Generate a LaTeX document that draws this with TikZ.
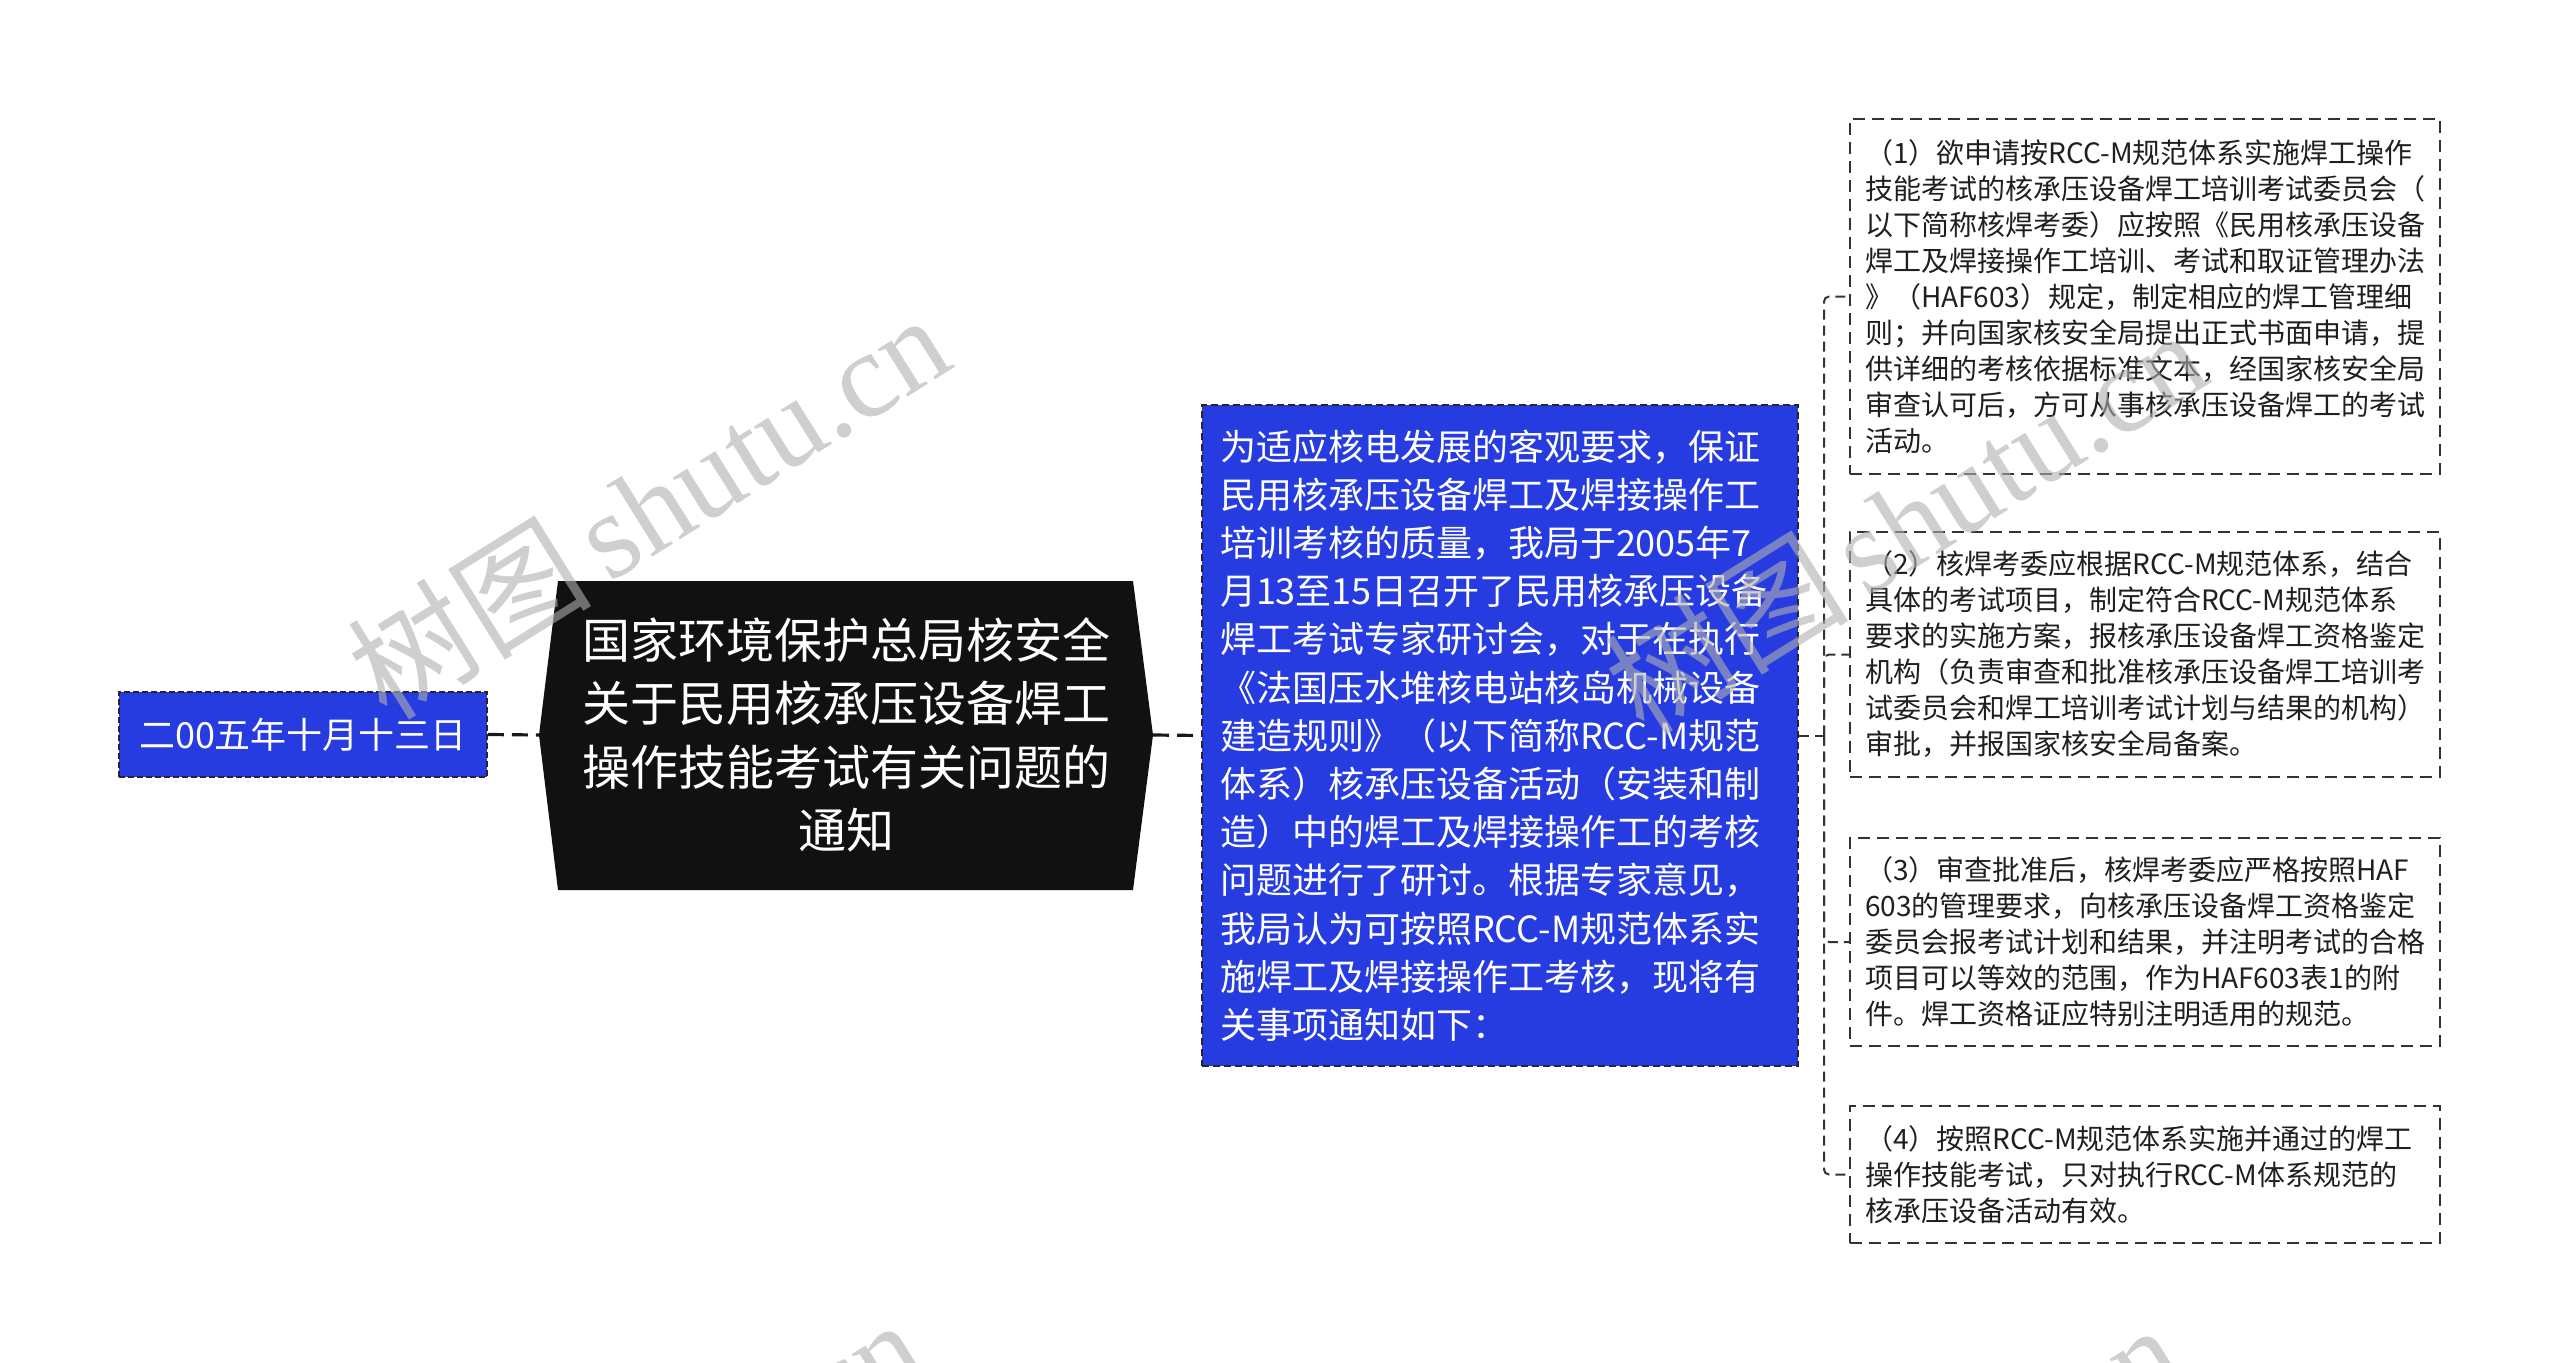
\documentclass[tikz,border=0pt]{standalone}
\usepackage{fontspec}
\setmainfont{Noto Sans CJK SC}
\newfontfamily\wmlatin{Liberation Serif}
\newfontfamily\wmcjk{Noto Sans CJK SC}
\definecolor{nodeblue}{RGB}{38,60,225}
\definecolor{wmgray}{RGB}{175,175,175}
\definecolor{titlebg}{RGB}{17,17,17}
\tikzset{
  datebox/.style={draw=black!85, dash pattern=on 6pt off 3pt, line width=1.6pt, fill=nodeblue, text=white,
    inner sep=0pt, minimum width=368pt, minimum height=85pt, font=\fontsize{36}{44}\selectfont},
  bluebox/.style={draw=black!85, dash pattern=on 7pt off 4pt, line width=1.6pt, fill=nodeblue, text=white,
    inner sep=0pt, minimum width=596pt, minimum height=661pt, text width=560pt, align=left,
    font=\fontsize{36}{48.2}\selectfont},
  titletext/.style={text=white, inner sep=0pt, align=center, font=\fontsize{48}{63.5}\selectfont},
  leafbox/.style={draw=black!80, dash pattern=on 12pt off 7pt, line width=2.2pt, fill=white, text=black!88,
    inner sep=0pt, minimum width=590pt, text width=560pt, align=left, font=\fontsize{28}{36}\selectfont},
  mainlink/.style={draw=black!90, line width=3.2pt, dash pattern=on 16pt off 8pt},
  leaflink/.style={draw=black!80, line width=2pt, dash pattern=on 10pt off 6pt, rounded corners=5pt},
  wmark/.style={text=wmgray, text opacity=0.6, inner sep=0pt, rotate=32, font=\fontsize{122}{130}\selectfont}
}
\begin{document}
\begin{tikzpicture}[x=1pt,y=-1pt]
\useasboundingbox[fill=white] (0,0) rectangle (2560,1363);

% title (black) shape
\fill[titlebg] (558,581) -- (1133,581) -- (1153,735) -- (1133,890) -- (558,890) -- (539,735) -- cycle;
\coordinate (titleL) at (539,735);
\coordinate (titleR) at (1153,735);
\node[titletext] (title) at (846,735) {国家环境保护总局核安全\\关于民用核承压设备焊工\\操作技能考试有关问题的\\通知};

% date node
\node[datebox] (date) at (303,734.5) {二00五年十月十三日};

% main blue text node
\node[bluebox] (intro) at (1500,735.5) {为适应核电发展的客观要求，保证\\民用核承压设备焊工及焊接操作工\\培训考核的质量，我局于2005年7\\月13至15日召开了民用核承压设备\\焊工考试专家研讨会，对于在执行\\《法国压水堆核电站核岛机械设备\\建造规则》（以下简称RCC-M规范\\体系）核承压设备活动（安装和制\\造）中的焊工及焊接操作工的考核\\问题进行了研讨。根据专家意见，\\我局认为可按照RCC-M规范体系实\\施焊工及焊接操作工考核，现将有\\关事项通知如下：};

% leaf nodes
\node[leafbox, minimum height=355pt] (leaf1) at (2145,296.5) {（1）欲申请按RCC-M规范体系实施焊工操作\\技能考试的核承压设备焊工培训考试委员会（\\以下简称核焊考委）应按照《民用核承压设备\\焊工及焊接操作工培训、考试和取证管理办法\\》（HAF603）规定，制定相应的焊工管理细\\则；并向国家核安全局提出正式书面申请，提\\供详细的考核依据标准文本，经国家核安全局\\审查认可后，方可从事核承压设备焊工的考试\\活动。};
\node[leafbox, minimum height=245pt] (leaf2) at (2145,654.5) {（2）核焊考委应根据RCC-M规范体系，结合\\具体的考试项目，制定符合RCC-M规范体系\\要求的实施方案，报核承压设备焊工资格鉴定\\机构（负责审查和批准核承压设备焊工培训考\\试委员会和焊工培训考试计划与结果的机构）\\审批，并报国家核安全局备案。};
\node[leafbox, minimum height=208pt] (leaf3) at (2145,942) {（3）审查批准后，核焊考委应严格按照HAF\\603的管理要求，向核承压设备焊工资格鉴定\\委员会报考试计划和结果，并注明考试的合格\\项目可以等效的范围，作为HAF603表1的附\\件。焊工资格证应特别注明适用的规范。};
\node[leafbox, minimum height=137pt] (leaf4) at (2145,1174.5) {（4）按照RCC-M规范体系实施并通过的焊工\\操作技能考试，只对执行RCC-M体系规范的\\核承压设备活动有效。};

% connectors
\draw[mainlink] (date.east) -- (titleL);
\draw[mainlink] (titleR) -- (intro.west);
\coordinate (junc) at (1824,735.5);
\draw[leaflink] (intro.east) -- (junc);
\draw[leaflink] (junc) |- (leaf1.west);
\draw[leaflink] (junc) |- (leaf2.west);
\draw[leaflink] (junc) |- (leaf3.west);
\draw[leaflink] (junc) |- (leaf4.west);

% watermarks
\begin{scope}
\clip (0,0) rectangle (2560,1363);
\node[wmark] (wm1) at (648,505) {{\wmcjk 树图}\hspace{18pt}{\wmlatin shutu.cn}};
\node[wmark] (wm2) at (1905,520) {{\wmcjk 树图}\hspace{18pt}{\wmlatin shutu.cn}};
\node[wmark] (wm3) at (622,1510) {{\wmcjk 树图}\hspace{18pt}{\wmlatin shutu.cn}};
\node[wmark] (wm4) at (1880,1515) {{\wmcjk 树图}\hspace{18pt}{\wmlatin shutu.cn}};
\end{scope}
\end{tikzpicture}
\end{document}
